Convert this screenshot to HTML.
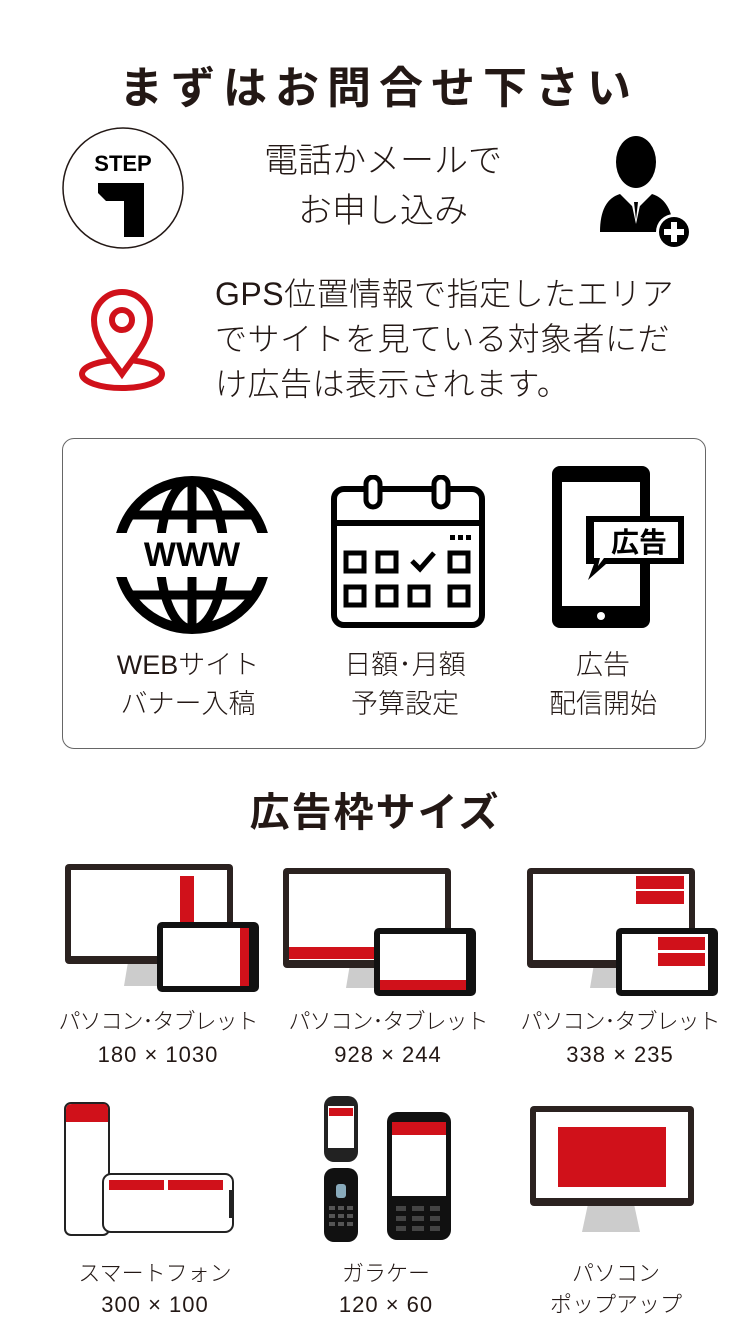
<!DOCTYPE html>
<html><head><meta charset="utf-8"><style>
body{margin:0;width:750px;height:1334px;background:#fff;position:relative;overflow:hidden;font-family:"Liberation Sans","Noto Sans CJK JP",sans-serif;color:#231815}
.a{position:absolute}
.t{position:absolute;white-space:nowrap;text-align:center}
</style></head><body>
<div class="t" style="left:0;width:750px;top:52px;font-size:44px;font-weight:bold;letter-spacing:8px;text-indent:8px">まずはお問合せ下さい</div>

<svg class="a" style="left:60px;top:125px" width="126" height="126"><circle cx="63" cy="63" r="60" fill="#fff" stroke="#231815" stroke-width="1.5"/>
<text x="63" y="46" text-anchor="middle" font-family="Liberation Sans" font-weight="900" font-size="22" fill="#000">STEP</text>
<path d="M38 58 H84 V112 H64 V76 H46 L38 68 Z" fill="#000"/></svg>

<div class="t" style="left:230px;width:306px;top:136px;font-size:34px;line-height:50px;font-weight:300;color:#231815">電話かメールで<br>お申し込み</div>

<svg class="a" style="left:598px;top:132px" width="96" height="118">
<ellipse cx="38" cy="30" rx="20" ry="26" fill="#000"/>
<path d="M2 100 Q2 68 22 62 L38 78 L54 62 Q74 68 76 100 Z" fill="#000"/>
<path d="M32 64 L38 92 L44 64 Z" fill="#fff"/>
<path d="M36 70 L38 88 L40 70Z" fill="#000"/>
<circle cx="76" cy="100" r="18" fill="#fff"/><circle cx="76" cy="100" r="15" fill="#000"/>
<rect x="73" y="90" width="6" height="20" fill="#fff"/><rect x="66" y="97" width="20" height="6" fill="#fff"/></svg>

<svg class="a" style="left:78px;top:288px" width="90" height="105">
<ellipse cx="44" cy="86" rx="40" ry="14" fill="none" stroke="#d0111a" stroke-width="6"/>
<path d="M44 86 C30 66 16 52 16 32 A28 28 0 0 1 72 32 C72 52 58 66 44 86Z" fill="#fff" stroke="#d0111a" stroke-width="6"/>
<circle cx="44" cy="32" r="10" fill="none" stroke="#d0111a" stroke-width="6"/></svg>

<div class="a" style="left:215px;top:272px;font-size:32px;line-height:45px;font-weight:300;white-space:nowrap;letter-spacing:0.5px">GPS位置情報で指定したエリア<br>でサイトを見ている対象者にだ<br>け広告は表示されます。</div>

<div class="a" style="left:62px;top:438px;width:644px;height:311px;border:1px solid #666;border-radius:12px;box-sizing:border-box"></div>

<svg class="a" style="left:112px;top:475px" width="160" height="160">
<circle cx="80" cy="80" r="74" fill="none" stroke="#000" stroke-width="10"/>
<ellipse cx="80" cy="80" rx="32" ry="74" fill="none" stroke="#000" stroke-width="9"/>
<line x1="80" y1="6" x2="80" y2="154" stroke="#000" stroke-width="9"/>
<path d="M18 40 H142 M18 120 H142" stroke="#000" stroke-width="9"/>
<rect x="0" y="58" width="160" height="44" fill="#fff"/>
<text x="80" y="91" text-anchor="middle" font-family="Liberation Sans" font-weight="900" font-size="34" fill="#000">WWW</text></svg>

<svg class="a" style="left:330px;top:475px" width="156" height="155">
<rect x="4" y="14" width="148" height="136" rx="10" fill="none" stroke="#000" stroke-width="6"/>
<line x1="4" y1="48" x2="152" y2="48" stroke="#000" stroke-width="6"/>
<rect x="36" y="2" width="14" height="30" rx="7" fill="#fff" stroke="#000" stroke-width="5"/>
<rect x="104" y="2" width="14" height="30" rx="7" fill="#fff" stroke="#000" stroke-width="5"/>
<g fill="none" stroke="#000" stroke-width="5"><rect x="16" y="78" width="18" height="18"/><rect x="48" y="78" width="18" height="18"/><rect x="120" y="78" width="18" height="18"/>
<rect x="16" y="112" width="18" height="18"/><rect x="48" y="112" width="18" height="18"/><rect x="80" y="112" width="18" height="18"/><rect x="120" y="112" width="18" height="18"/>
<path d="M82 86 L90 94 L104 78"/></g>
<rect x="120" y="60" width="5" height="5"/><rect x="128" y="60" width="5" height="5"/><rect x="136" y="60" width="5" height="5"/></svg>

<svg class="a" style="left:550px;top:464px" width="140" height="166">
<rect x="2" y="2" width="98" height="162" rx="8" fill="#000"/>
<rect x="12" y="18" width="78" height="124" fill="#fff"/>
<circle cx="51" cy="152" r="4" fill="#fff"/>
<path d="M36 52 H134 V100 H56 L38 116 L44 100 H36 Z" fill="#000"/>
<path d="M44 58 H128 V94 H54 L48 102 L50 94 H44 Z" fill="#fff"/>
<text x="89" y="88" text-anchor="middle" font-family="Noto Sans CJK JP" font-weight="bold" font-size="28" fill="#000">広告</text></svg>

<div class="t" style="left:98px;width:180px;top:646px;font-size:27px;line-height:39px;font-weight:300">WEBサイト<br>バナー入稿</div>
<div class="t" style="left:315px;width:180px;top:646px;font-size:27px;line-height:39px;font-weight:300">日額･月額<br>予算設定</div>
<div class="t" style="left:513px;width:180px;top:646px;font-size:27px;line-height:39px;font-weight:300">広告<br>配信開始</div>

<div class="t" style="left:0;width:750px;top:780px;font-size:40px;font-weight:bold;letter-spacing:2px">広告枠サイズ</div>

<svg class="a" style="left:62px;top:862px" width="200" height="132">
<path d="M66 100 L62 124 H114 L108 100Z" fill="#ccc"/>
<rect x="3" y="2" width="168" height="100" rx="4" fill="#2b2220"/><rect x="9" y="8" width="156" height="86" fill="#fff"/>
<rect x="118" y="14" width="14" height="50" fill="#d0111a"/>
<rect x="95" y="60" width="102" height="70" rx="5" fill="#111"/><rect x="101" y="66" width="86" height="58" fill="#fff"/><rect x="178" y="66" width="9" height="58" fill="#d0111a"/></svg>
<svg class="a" style="left:280px;top:866px" width="200" height="132">
<path d="M70 98 L66 122 H114 L108 98Z" fill="#ccc"/>
<rect x="3" y="2" width="168" height="100" rx="4" fill="#2b2220"/><rect x="9" y="8" width="156" height="86" fill="#fff"/>
<rect x="9" y="81" width="156" height="12" fill="#d0111a"/>
<rect x="94" y="62" width="102" height="68" rx="5" fill="#111"/><rect x="100" y="68" width="86" height="56" fill="#fff"/><rect x="100" y="114" width="86" height="10" fill="#d0111a"/></svg>
<svg class="a" style="left:524px;top:866px" width="200" height="132">
<path d="M70 98 L66 122 H114 L108 98Z" fill="#ccc"/>
<rect x="3" y="2" width="168" height="100" rx="4" fill="#2b2220"/><rect x="9" y="8" width="156" height="86" fill="#fff"/>
<rect x="112" y="10" width="48" height="13" fill="#d0111a"/><rect x="112" y="25" width="48" height="13" fill="#d0111a"/>
<rect x="92" y="62" width="102" height="68" rx="5" fill="#111"/><rect x="98" y="68" width="86" height="56" fill="#fff"/>
<rect x="134" y="71" width="47" height="13" fill="#d0111a"/><rect x="134" y="87" width="47" height="13" fill="#d0111a"/></svg>

<div class="t" style="left:58px;width:200px;top:1005px;font-size:22px;line-height:33px;font-weight:300;letter-spacing:-1px">パソコン･タブレット<br><span style="font-weight:normal;letter-spacing:1px">180 × 1030</span></div>
<div class="t" style="left:288px;width:200px;top:1005px;font-size:22px;line-height:33px;font-weight:300;letter-spacing:-1px">パソコン･タブレット<br><span style="letter-spacing:1px">928 × 244</span></div>
<div class="t" style="left:520px;width:200px;top:1005px;font-size:22px;line-height:33px;font-weight:300;letter-spacing:-1px">パソコン･タブレット<br><span style="letter-spacing:1px">338 × 235</span></div>

<svg class="a" style="left:62px;top:1100px" width="178" height="138">
<rect x="3" y="3" width="44" height="132" rx="6" fill="#fff" stroke="#222" stroke-width="2"/>
<path d="M4 10 Q4 4 10 4 H42 Q46 4 46 10 V22 H4Z" fill="#d0111a"/>
<rect x="41" y="74" width="130" height="58" rx="8" fill="#fff" stroke="#222" stroke-width="2"/>
<rect x="47" y="80" width="55" height="10" fill="#d0111a"/><rect x="106" y="80" width="55" height="10" fill="#d0111a"/>
<rect x="167" y="90" width="5" height="28" fill="#222"/></svg>

<svg class="a" style="left:320px;top:1094px" width="140" height="150">
<rect x="4" y="2" width="34" height="66" rx="10" fill="#222"/><rect x="8" y="12" width="26" height="42" fill="#fff"/><rect x="9" y="14" width="24" height="8" fill="#d0111a"/>
<rect x="4" y="74" width="34" height="74" rx="10" fill="#111"/>
<rect x="16" y="90" width="10" height="14" rx="3" fill="#8ab"/>
<g fill="#555"><rect x="9" y="112" width="6" height="4"/><rect x="18" y="112" width="6" height="4"/><rect x="27" y="112" width="6" height="4"/><rect x="9" y="120" width="6" height="4"/><rect x="18" y="120" width="6" height="4"/><rect x="27" y="120" width="6" height="4"/><rect x="9" y="128" width="6" height="4"/><rect x="18" y="128" width="6" height="4"/><rect x="27" y="128" width="6" height="4"/></g>
<rect x="67" y="18" width="64" height="128" rx="10" fill="#111"/><rect x="72" y="28" width="54" height="74" fill="#fff"/><rect x="72" y="28" width="54" height="13" fill="#d0111a"/>
<g fill="#444"><rect x="76" y="112" width="10" height="5"/><rect x="92" y="112" width="12" height="5"/><rect x="110" y="112" width="10" height="5"/><rect x="76" y="122" width="10" height="5"/><rect x="92" y="122" width="12" height="5"/><rect x="110" y="122" width="10" height="5"/><rect x="76" y="132" width="10" height="5"/><rect x="92" y="132" width="12" height="5"/><rect x="110" y="132" width="10" height="5"/></g></svg>

<svg class="a" style="left:528px;top:1104px" width="170" height="132">
<path d="M60 100 L54 128 H112 L106 100Z" fill="#ccc"/>
<rect x="2" y="2" width="164" height="100" rx="4" fill="#2b2220"/><rect x="8" y="8" width="152" height="86" fill="#fff"/>
<rect x="30" y="23" width="108" height="60" fill="#d0111a"/></svg>

<div class="t" style="left:55px;width:200px;top:1258px;font-size:22px;line-height:31px;font-weight:300">スマートフォン<br><span style="letter-spacing:1px">300 × 100</span></div>
<div class="t" style="left:286px;width:200px;top:1258px;font-size:22px;line-height:31px;font-weight:300">ガラケー<br><span style="letter-spacing:1px">120 × 60</span></div>
<div class="t" style="left:516px;width:200px;top:1258px;font-size:22px;line-height:31px;font-weight:300">パソコン<br>ポップアップ</div>
</body></html>
